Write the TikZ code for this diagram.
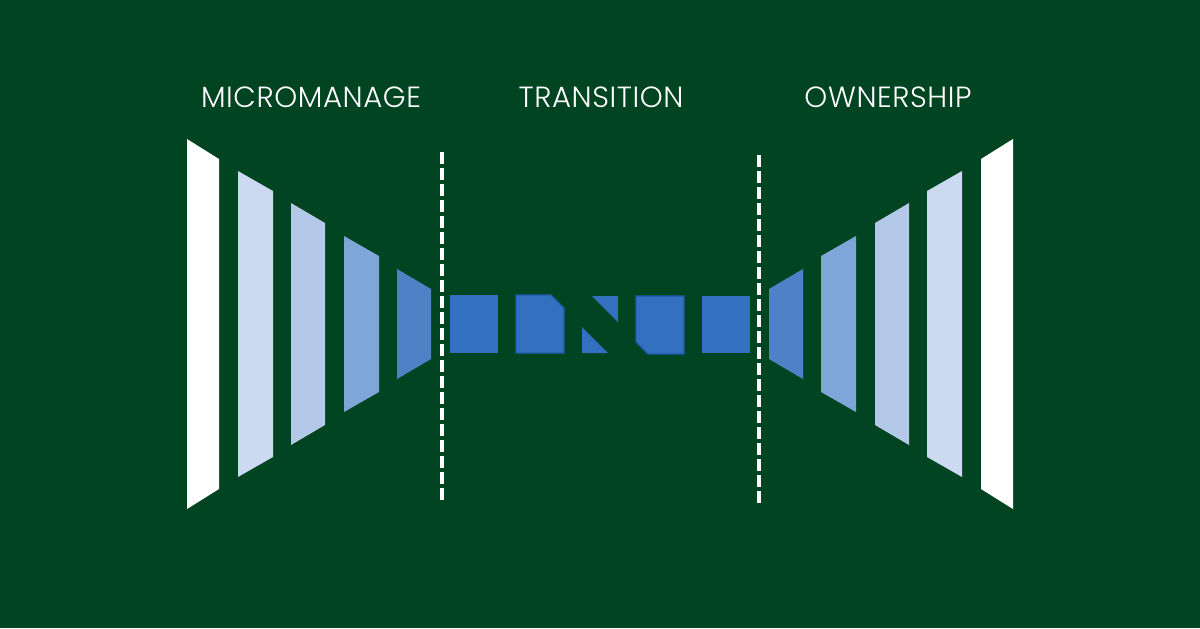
\documentclass[tikz,border=0pt]{standalone}
\usepackage{fontspec}
\setmainfont{Poppins}[UprightFont={* Light}, LetterSpace=2]
\usepackage{tikz}
\usepackage{xcolor}

\definecolor{bggreen}{HTML}{004422}
\definecolor{boxblue}{HTML}{3470C0}
\definecolor{edgeblue}{HTML}{1F5AAE}
\definecolor{shadeD}{HTML}{4F81C6}
\definecolor{shadeC}{HTML}{7FA6D9}
\definecolor{shadeB}{HTML}{B4C9E8}
\definecolor{shadeA}{HTML}{CBDAF0}

\begin{document}
\begin{tikzpicture}[
  x=0.5pt, y=-0.5pt,
  every node/.style={font=\fontsize{14.6}{17}\selectfont, text=white},
  divider/.style={white, line width=2pt, dash pattern=on 6pt off 2pt},
  tile/.style={fill=boxblue},
  cuttile/.style={fill=boxblue, draw=edgeblue, line width=0.6pt}
]

% Parameters (in pixel units)
\def\cy{324}   % centre line of the funnel
\def\W{34}     % width of one panel
\def\S{20}     % drop of the slanted edges
\def\Ta{295}   % top of the middle tiles
\def\Tb{353}   % bottom of the middle tiles

% --- Background ---
\fill[bggreen] (0,0) rectangle (1200,628);
\useasboundingbox (0,0) rectangle (1200,628);

% --- Headings ---
\node (micro) at (311,97) {MICROMANAGE};
\node (trans) at (601,97) {TRANSITION};
\node (own)   at (888,97) {OWNERSHIP};

% --- Panels, left side and mirrored right side ---
\foreach \xa/\w/\h/\col in {187/32/185/white, 238/35/153/shadeA, 291/34/121/shadeB,
                            344/35/88/shadeC, 397/34/55/shadeD}{
  \fill[\col] (\xa,\cy-\h) -- (\xa+\w,\cy-\h+\S)
              -- (\xa+\w,\cy+\h-\S) -- (\xa,\cy+\h) -- cycle;
  \fill[\col] (1200-\xa,\cy-\h) -- (1200-\xa-\w,\cy-\h+\S)
              -- (1200-\xa-\w,\cy+\h-\S) -- (1200-\xa,\cy+\h) -- cycle;
}

% --- Dashed dividers ---
\draw[divider] (442,152) -- (442,500);
\draw[divider] (759,155) -- (759,503);

% --- Middle tiles ---
\fill[tile] (450,\Ta) rectangle (498,\Tb);
\filldraw[cuttile] (516,\Ta) -- (551,\Ta) -- (564,308) -- (564,\Tb)
                   -- (516,\Tb) -- cycle;
\fill[tile] (592,296) -- (618,296) -- (618,322) -- cycle;
\fill[tile] (582,327) -- (582,\Tb) -- (608,\Tb) -- cycle;
\filldraw[cuttile] (636,296) -- (684,296) -- (684,354) -- (648,354)
                   -- (636,342) -- cycle;
\fill[tile] (702,296) rectangle (750,\Tb);

\end{tikzpicture}
\end{document}
